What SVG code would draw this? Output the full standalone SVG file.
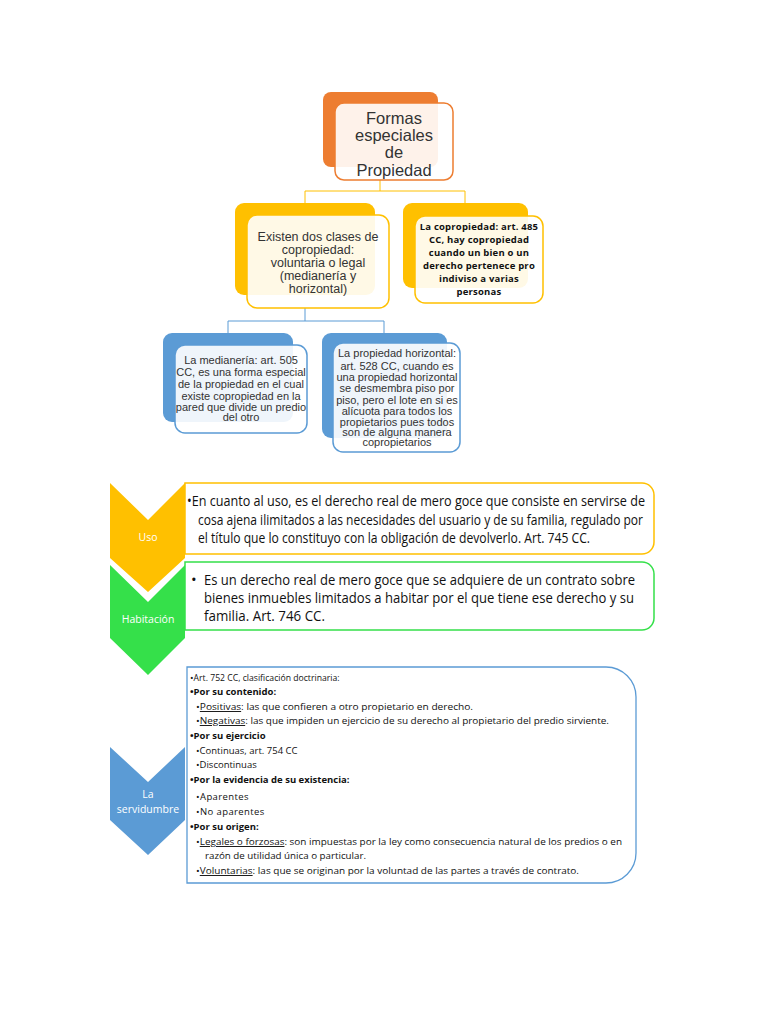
<svg xmlns="http://www.w3.org/2000/svg" width="768" height="1024" viewBox="0 0 768 1024">
<style>
.ar{font-family:"Liberation Sans",Arial,sans-serif;fill:#333;text-anchor:middle}
.cb{font-family:"Open Sans","Liberation Sans",sans-serif;fill:#111}
.chev{font-family:"Open Sans","Liberation Sans",sans-serif;fill:#fff;text-anchor:middle;font-size:10.5px}
.front{fill:#fff;fill-opacity:0.9;stroke-width:1.5}
.b{font-weight:bold}
.u{text-decoration:underline}
</style>
<rect width="768" height="1024" fill="#fff"/>
<g id="connectors" fill="none">
<path d="M380,180 V191 M305,191 H465 M305,191 V203 M465,191 V203" stroke="#FFC000" stroke-width="1"/>
<path d="M305,308 V321 M228,321 H384 M228,321 V333 M384,321 V333" stroke="#5B9BD5" stroke-width="1"/>
</g>
<g id="n-formas">
<rect x="323" y="92" width="115" height="75" rx="8" fill="#ED7D31"/>
<rect x="335" y="103" width="118" height="77" rx="9" class="front" stroke="#ED7D31"/>
<g class="ar" font-size="16.5">
<text x="394" y="124">Formas</text>
<text x="394" y="141">especiales</text>
<text x="394" y="158">de</text>
<text x="394" y="176">Propiedad</text>
</g>
</g>
<g id="n-clases">
<rect x="235" y="203" width="140" height="92" rx="9" fill="#FFC000"/>
<rect x="247" y="215" width="142" height="93" rx="10" class="front" stroke="#FFC000"/>
<g class="ar" font-size="12.5">
<text x="318" y="241">Existen dos clases de</text>
<text x="318" y="254">copropiedad:</text>
<text x="318" y="267">voluntaria o legal</text>
<text x="318" y="280">(medianería y</text>
<text x="318" y="293">horizontal)</text>
</g>
</g>
<g id="n-copropiedad">
<rect x="403" y="203" width="125" height="85" rx="9" fill="#FFC000"/>
<rect x="415" y="216" width="128" height="87" rx="10" class="front" stroke="#FFC000"/>
<g class="cb b" font-size="9.5" text-anchor="middle" letter-spacing="0.2">
<text x="479" y="230">La copropiedad: art. 485</text>
<text x="479" y="243">CC, hay copropiedad</text>
<text x="479" y="256">cuando un bien o un</text>
<text x="479" y="269">derecho pertenece pro</text>
<text x="479" y="282">indiviso a varias</text>
<text x="479" y="295">personas</text>
</g>
</g>
<g id="n-medianeria">
<rect x="163" y="333" width="130" height="89" rx="9" fill="#5B9BD5"/>
<rect x="175" y="345" width="132" height="88" rx="10" class="front" stroke="#5B9BD5"/>
<g class="ar" font-size="11">
<text x="241" y="364">La medianería: art. 505</text>
<text x="241" y="376">CC, es una forma especial</text>
<text x="241" y="388">de la propiedad en el cual</text>
<text x="241" y="400">existe copropiedad en la</text>
<text x="241" y="411">pared que divide un predio</text>
<text x="241" y="421">del otro</text>
</g>
</g>
<g id="n-horizontal">
<rect x="322" y="333" width="125" height="105" rx="9" fill="#5B9BD5"/>
<rect x="333" y="343" width="127" height="109" rx="10" class="front" stroke="#5B9BD5"/>
<g class="ar" font-size="11">
<text x="397" y="357">La propiedad horizontal:</text>
<text x="397" y="370">art. 528 CC, cuando es</text>
<text x="397" y="381">una propiedad horizontal</text>
<text x="397" y="392">se desmembra piso por</text>
<text x="397" y="404">piso, pero el lote en si es</text>
<text x="397" y="415">alícuota para todos los</text>
<text x="397" y="426">propietarios pues todos</text>
<text x="397" y="436">son de alguna manera</text>
<text x="397" y="446">copropietarios</text>
</g>
</g>
<g id="n-uso">
<polygon points="110,483 148,520 185,483 185,558 148,592 110,558" fill="#FFC000"/>
<text class="chev" x="148" y="541">Uso</text>
<path d="M185,483 H642 A12,12 0 0 1 654,495 V542 A12,12 0 0 1 642,554 H185 Z" fill="#fff" stroke="#FFC000" stroke-width="1.5"/>
<g class="cb" font-size="14">
<text x="187" y="506" textLength="458" lengthAdjust="spacingAndGlyphs">•En cuanto al uso, es el derecho real de mero goce que consiste en servirse de</text>
<text x="198" y="525" textLength="445" lengthAdjust="spacingAndGlyphs">cosa ajena ilimitados a las necesidades del usuario y de su familia, regulado por</text>
<text x="198" y="543" textLength="392" lengthAdjust="spacingAndGlyphs">el título que lo constituyo con la obligación de devolverlo. Art. 745 CC.</text>
</g>
</g>
<g id="n-habitacion">
<polygon points="110,565 148,602 185,565 185,638 148,675 110,638" fill="#35E04A"/>
<text class="chev" x="148" y="623">Habitación</text>
<path d="M185,562 H642 A12,12 0 0 1 654,574 V618 A12,12 0 0 1 642,630 H185 Z" fill="#fff" stroke="#35E04A" stroke-width="1.5"/>
<g class="cb" font-size="15">
<text x="191" y="585">•</text>
<text x="204" y="585" textLength="431" lengthAdjust="spacingAndGlyphs">Es un derecho real de mero goce que se adquiere de un contrato sobre</text>
<text x="204" y="603" textLength="430" lengthAdjust="spacingAndGlyphs">bienes inmuebles limitados a habitar por el que tiene ese derecho y su</text>
<text x="204" y="621" textLength="121" lengthAdjust="spacingAndGlyphs">familia. Art. 746 CC.</text>
</g>
</g>
<g id="n-servidumbre">
<polygon points="110,747 148,782 185,747 185,820 148,855 110,820" fill="#5B9BD5"/>
<text class="chev" x="148" y="798">La</text>
<text class="chev" x="148" y="813">servidumbre</text>
<path d="M187,667 H606 A30,30 0 0 1 636,697 V853 A30,30 0 0 1 606,883 H187 Z" fill="#fff" stroke="#5B9BD5" stroke-width="1.3"/>
<g class="cb" font-size="9.5">
<text x="190" y="681">•<tspan textLength="146" lengthAdjust="spacingAndGlyphs">Art. 752 CC, clasificación doctrinaria:</tspan></text>
<text x="190" y="695" class="b">•Por su contenido:</text>
<text x="196" y="710" textLength="277" lengthAdjust="spacingAndGlyphs">•<tspan class="u">Positivas</tspan>: las que confieren a otro propietario en derecho.</text>
<text x="196" y="724" textLength="413" lengthAdjust="spacingAndGlyphs">•<tspan class="u">Negativas</tspan>: las que impiden un ejercicio de su derecho al propietario del predio sirviente.</text>
<text x="190" y="739" class="b">•Por su ejercicio</text>
<text x="196" y="754">•Continuas, art. 754 CC</text>
<text x="196" y="768">•Discontinuas</text>
<text x="190" y="783" class="b">•Por la evidencia de su existencia:</text>
<text x="196" y="800" letter-spacing="0.4">•Aparentes</text>
<text x="196" y="815" letter-spacing="0.4">•No aparentes</text>
<text x="190" y="830" class="b">•Por su origen:</text>
<text x="196" y="845" textLength="426" lengthAdjust="spacingAndGlyphs">•<tspan class="u">Legales o forzosas</tspan>: son impuestas por la ley como consecuencia natural de los predios o en</text>
<text x="205" y="859" textLength="161" lengthAdjust="spacingAndGlyphs">razón de utilidad única o particular.</text>
<text x="196" y="874" textLength="383" lengthAdjust="spacingAndGlyphs">•<tspan class="u">Voluntarias</tspan>: las que se originan por la voluntad de las partes a través de contrato.</text>
</g>
</g>
</svg>
